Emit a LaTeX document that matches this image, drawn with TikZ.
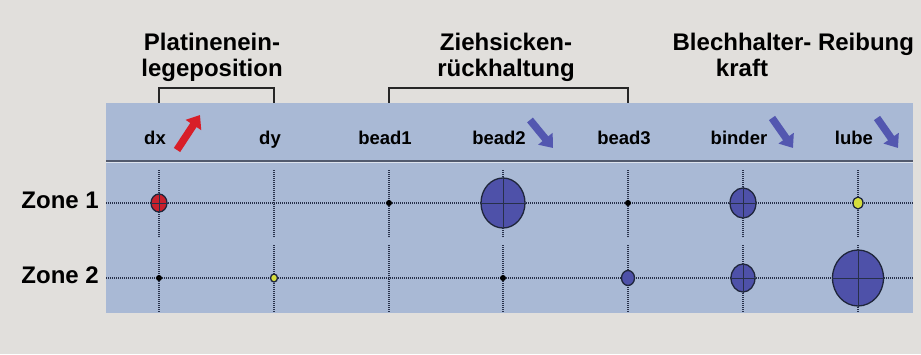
\documentclass[tikz,border=0pt]{standalone}
\usepackage{fontspec}
\setmainfont{Liberation Sans}
\usetikzlibrary{arrows.meta,shapes.geometric}
\definecolor{bggray}{HTML}{E1DFDC}
\definecolor{panelblue}{HTML}{A9B9D5}
\definecolor{gridnavy}{HTML}{27304A}
\definecolor{bubbleblue}{HTML}{4E51A9}
\definecolor{bubblered}{HTML}{C8202C}
\definecolor{bubbleyellow}{HTML}{D6DE3C}
\definecolor{arrowblue}{HTML}{5357B0}
\definecolor{arrowred}{HTML}{D81E28}
\tikzset{
  toplabel/.style  = {font=\fontsize{24}{26}\selectfont\bfseries,
                      align=center, inner sep=0pt, anchor=north},
  varlabel/.style  = {font=\fontsize{18.5}{20}\selectfont\bfseries,
                      inner sep=0pt, anchor=base},
  zonelabel/.style = {font=\fontsize{24}{26}\selectfont\bfseries,
                      inner sep=0pt, anchor=base east},
  gridline/.style  = {gridnavy, line width=1.5pt, dash pattern=on 1.2pt off 0.8pt},
  bracket/.style   = {black!85, line width=1.8pt},
  bubble/.style    = {ellipse, draw=gridnavy!80!black, line width=1.3pt,
                      fill=bubbleblue, inner sep=0pt},
  bsize/.style 2 args = {minimum width=#1, minimum height=#2},
  dot/.style       = {circle, fill=black, inner sep=0pt, minimum size=6pt},
  fatarrow/.style  = {line width=7.5pt, -{Triangle[length=12pt, width=18pt]}}
}
\begin{document}
\begin{tikzpicture}[x=1pt,y=1pt]
  \useasboundingbox[fill=bggray] (0,0) rectangle (921,354);
  \fill[panelblue] (106,41) rectangle (913,251);
  \draw[gridnavy!80, line width=1.6pt] (106,193) -- (913,193);
  \draw[white!60!panelblue, line width=1.2pt] (106,191.2) -- (913,191.2);

  \coordinate (ptop) at (0,251);
  \coordinate (btop) at (0,266);
  \coordinate (z1) at (0,151);
  \coordinate (z2) at (0,76);

  % columns with their labels
  \foreach \name/\x in {dx/159, dy/274, bead1/389, bead2/503,
                        bead3/628, binder/743, lube/858} {
    \coordinate (\name) at (\x,0);
    \node[varlabel] (\name-lab) at (\x-4,209) {\name};
    \draw[gridline] (\x,184) -- (\x,117);
    \draw[gridline] (\x,109) -- (\x,42);
  }

  % rows
  \node[zonelabel] (zone1) at (99,146) {Zone 1};
  \node[zonelabel] (zone2) at (99,71) {Zone 2};
  \draw[gridline] (106,151) -- (913,151);
  \draw[gridline] (106,76) -- (913,76);

  % group headings
  \node[toplabel] (platine) at (212,321) {Platinenein-\\legeposition};
  \node[toplabel] (zieh)    at (506,321) {Ziehsicken-\\rückhaltung};
  \node[toplabel] (blech)   at (742,321) {Blechhalter-\\kraft};
  \node[toplabel] (reib)    at (866,321) {Reibung};
  \draw[bracket] (dx |- ptop) -- (dx |- btop) -- (dy |- btop) -- (dy |- ptop);
  \draw[bracket] (bead1 |- ptop) -- (bead1 |- btop) -- (bead3 |- btop) -- (bead3 |- ptop);

  % trend arrows
  \draw[fatarrow, arrowred]  (177,204) -- (200,239);
  \draw[fatarrow, arrowblue] (530,234) -- (553,206);
  \draw[fatarrow, arrowblue] (772,236) -- (793,206);
  \draw[fatarrow, arrowblue] (877,236) -- (898,206);

  % zone 1
  \node[bubble, fill=bubblered, bsize={16pt}{18pt}] (dx-1) at (dx |- z1) {};
  \node[dot] (bead1-1) at (bead1 |- z1) {};
  \node[bubble, bsize={44pt}{50pt}] (bead2-1) at (bead2 |- z1) {};
  \node[dot] (bead3-1) at (bead3 |- z1) {};
  \node[bubble, bsize={26pt}{30pt}] (binder-1) at (binder |- z1) {};
  \node[bubble, fill=bubbleyellow, bsize={10pt}{12pt}] (lube-1) at (lube |- z1) {};

  % zone 2
  \node[dot] (dx-2) at (dx |- z2) {};
  \node[bubble, fill=bubbleyellow, bsize={7pt}{8pt}] (dy-2) at (dy |- z2) {};
  \node[dot] (bead2-2) at (bead2 |- z2) {};
  \node[bubble, bsize={13pt}{15pt}] (bead3-2) at (bead3 |- z2) {};
  \node[bubble, bsize={24pt}{28pt}] (binder-2) at (binder |- z2) {};
  \node[bubble, bsize={51pt}{56pt}] (lube-2) at (lube |- z2) {};

  % cross hairs over the bubbles
  \foreach \b in {bead2-1, binder-1, binder-2, lube-2, dx-1} {
    \draw[gridnavy, line width=0.9pt] (\b.north) -- (\b.south);
    \draw[gridnavy, line width=0.9pt] (\b.west) -- (\b.east);
  }
\end{tikzpicture}
\end{document}
